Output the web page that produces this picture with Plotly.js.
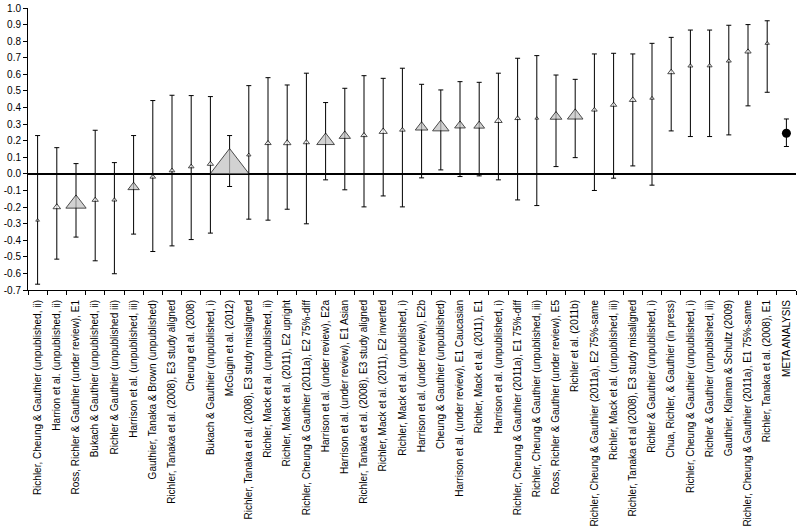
<!DOCTYPE html>
<html>
<head>
<meta charset="utf-8">
<script src="https://cdn.plot.ly/plotly-3.0.1.min.js"></script>
<style>html,body{margin:0;padding:0;background:#fff;}#chart{width:800px;height:529px;}</style>
</head>
<body>
<div id="chart"></div>
<script>
const studyLabels = [
  "Richler, Cheung & Gauthier (unpublished, ii)",
  "Harrion et al. (unpublished, ii)",
  "Ross, Richler & Gauthier (under review), E1",
  "Bukach & Gauthier (unpublished, ii)",
  "Richler & Gauthier (unpublished iii)",
  "Harrison et al. (unpublished, iii)",
  "Gauthier, Tanaka & Brown (unpublished)",
  "Richler, Tanaka et al. (2008), E3 study aligned",
  "Cheung et al. (2008)",
  "Bukach & Gauthier (unpublished, i)",
  "McGugin et al. (2012)",
  "Richler, Tanaka et al. (2008), E3 study misaligned",
  "Richler, Mack et al. (unpublished, ii)",
  "Richler, Mack et al. (2011), E2 upright",
  "Richler, Cheung & Gauthier (2011a), E2 75%-diff",
  "Harrison et al. (under review), E2a",
  "Harrison et al. (under review), E1 Asian",
  "Richler, Tanaka et al. (2008), E3 study aligned",
  "Richler, Mack et al. (2011), E2 inverted",
  "Richler, Mack et al. (unpublished, i)",
  "Harrison et al. (under review), E2b",
  "Cheung & Gauthier (unpublished)",
  "Harrison et al. (under review), E1 Caucasian",
  "Richler, Mack et al. (2011), E1",
  "Harrison et al. (unpublished, i)",
  "Richler, Cheung & Gauthier (2011a), E1 75%-diff",
  "Richler, Cheung & Gauthier (unpublished, iii)",
  "Ross, Richler & Gauthier (under review), E5",
  "Richler et al. (2011b)",
  "Richler, Cheung & Gauthier (2011a), E2 75%-same",
  "Richler, Mack et al. (unpublished, iii)",
  "Richler, Tanaka et al (2008), E3 study misaligned",
  "Richler & Gauthier (unpublished, i)",
  "Chua, Richler, & Gauthier (in press)",
  "Richler, Cheung & Gauthier (unpublished, i)",
  "Richler & Gauthier (unpublished, iii)",
  "Gauthier, Klaiman & Schultz (2009)",
  "Richler, Cheung & Gauthier (2011a), E1 75%-same",
  "Richler, Tanaka et al. (2008), E1"
];
const effectSize = [-0.28, -0.20, -0.18, -0.157, -0.157, -0.08, -0.018, 0.02, 0.044, 0.06,
  0.05, 0.114, 0.185, 0.186, 0.19, 0.20, 0.229, 0.233, 0.255, 0.265,
  0.281, 0.281, 0.291, 0.29, 0.32, 0.335, 0.335, 0.345, 0.351, 0.386,
  0.416, 0.446, 0.456, 0.613, 0.651, 0.652, 0.681, 0.737, 0.787];
const ciLower = [-0.665, -0.514, -0.381, -0.524, -0.602, -0.363, -0.468, -0.434, -0.396, -0.357,
  -0.076, -0.273, -0.279, -0.213, -0.301, -0.036, -0.096, -0.199, -0.133, -0.199,
  -0.024, 0.024, -0.016, -0.012, -0.036, -0.157, -0.191, 0.044, 0.098, -0.10,
  -0.026, 0.048, -0.068, 0.259, 0.225, 0.225, 0.235, 0.41, 0.492];
const ciUpper = [0.231, 0.158, 0.062, 0.263, 0.068, 0.231, 0.442, 0.474, 0.472, 0.466,
  0.231, 0.532, 0.58, 0.536, 0.607, 0.43, 0.516, 0.592, 0.576, 0.637,
  0.54, 0.506, 0.556, 0.552, 0.607, 0.697, 0.713, 0.596, 0.57, 0.723,
  0.727, 0.723, 0.787, 0.823, 0.867, 0.867, 0.896, 0.90, 0.923];
const studyWeight = [3, 6, 16, 5, 4, 9, 4.5, 4.5, 4.5, 5,
  31, 3.5, 5, 6, 5, 14, 9, 5, 6.5, 4.5,
  10, 13, 8.5, 8.5, 6, 4.5, 3, 9.3, 12.3, 4.5,
  5, 5.5, 3.5, 5.5, 4, 4, 4, 5, 3.5];
const metaLabel = "META ANALYSIS";
const metaEffect = 0.245;
const metaLower = 0.165;
const metaUpper = 0.331;
const yTickVals = [1.0, 0.9, 0.8, 0.7, 0.6, 0.5, 0.4, 0.3, 0.2, 0.1, 0.0, -0.1, -0.2, -0.3, -0.4, -0.5, -0.6, -0.7];
const yTickLabels = ["1.0", "0.9", "0.8", "0.7", "0.6", "0.5", "0.4", "0.3", "0.2", "0.1", "0.0", "-0.1", "-0.2", "-0.3", "-0.4", "-0.5", "-0.6", "-0.7"];

const allLabels = studyLabels.concat([metaLabel]);
const xIdx = studyLabels.map((_, i) => i);
const metaX = studyLabels.length;

const FONT = "Liberation Sans, Arial, sans-serif";

const studies = {
  type: "scatter",
  mode: "markers",
  x: xIdx,
  y: effectSize,
  error_y: {
    type: "data",
    symmetric: false,
    array: effectSize.map((v, i) => ciUpper[i] - v),
    arrayminus: effectSize.map((v, i) => v - ciLower[i]),
    color: "#000000",
    thickness: 1,
    width: 2.5
  },
  marker: {
    symbol: "triangle-up",
    size: studyWeight.map(w => w * 1.1),
    color: studyWeight.map(w => w >= 8 ? "#c0c0c0" : "#ffffff"),
    line: { color: "#000000", width: 1 }
  },
  hoverinfo: "skip",
  showlegend: false
};

const meta = {
  type: "scatter",
  mode: "markers",
  x: [metaX],
  y: [metaEffect],
  error_y: {
    type: "data",
    symmetric: false,
    array: [metaUpper - metaEffect],
    arrayminus: [metaEffect - metaLower],
    color: "#000000",
    thickness: 1,
    width: 2.5
  },
  marker: { symbol: "circle", size: 9, color: "#000000" },
  hoverinfo: "skip",
  showlegend: false
};

const layout = {
  width: 800,
  height: 529,
  margin: { l: 28, r: 4, t: 8, b: 239 },
  paper_bgcolor: "#ffffff",
  plot_bgcolor: "#ffffff",
  font: { family: FONT, size: 10, color: "#000000" },
  xaxis: {
    range: [-0.5, allLabels.length - 0.5],
    tickmode: "array",
    tickvals: allLabels.map((_, i) => i),
    ticktext: allLabels,
    tickangle: -90,
    ticks: "",
    ticklabelstandoff: 5,
    showline: true,
    linecolor: "#000000",
    linewidth: 1,
    showgrid: false,
    zeroline: false,
    minor: { tickmode: "linear", tick0: -0.5, dtick: 1, ticks: "outside", ticklen: 4, tickcolor: "#000000", tickwidth: 1, showgrid: false },
    tickfont: { family: FONT, size: 10, color: "#000000" },
    fixedrange: true
  },
  yaxis: {
    range: [-0.7, 1.0],
    tickmode: "array",
    tickvals: yTickVals,
    ticktext: yTickLabels,
    ticks: "outside",
    ticklen: 4,
    tickcolor: "#000000",
    showline: true,
    linecolor: "#000000",
    linewidth: 1,
    showgrid: false,
    zeroline: true,
    zerolinecolor: "#000000",
    zerolinewidth: 1.5,
    tickfont: { family: FONT, size: 10, color: "#000000" },
    fixedrange: true
  }
};

Plotly.newPlot("chart", [studies, meta], layout, { displayModeBar: false, staticPlot: true });
</script>
</body>
</html>
